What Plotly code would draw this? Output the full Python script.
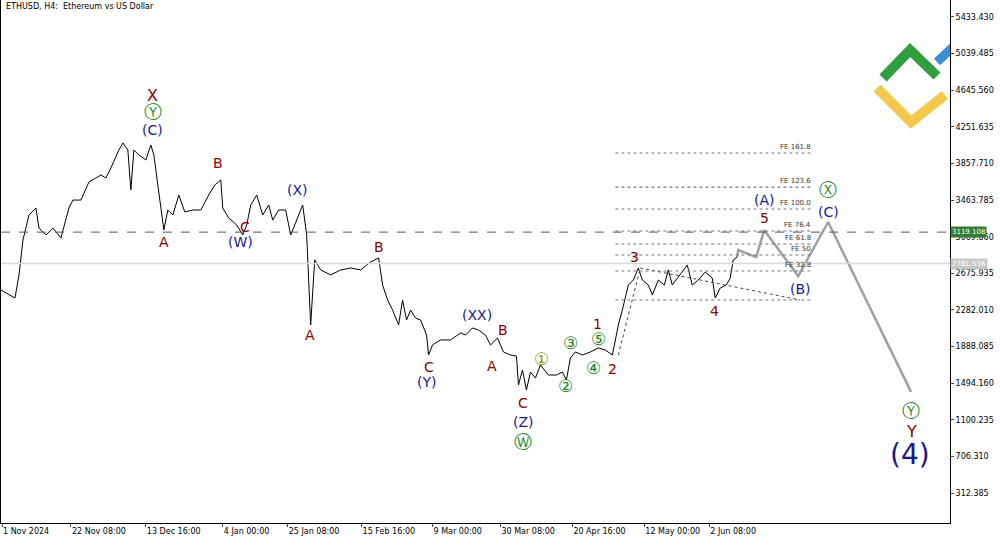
import plotly.graph_objects as go

# bar position (chart x) and close price
bar = [0, 5, 14, 18, 22, 28, 35, 38, 45, 52, 60, 68, 72, 80, 88, 95, 100, 105, 110, 118,
       122, 127, 130, 133, 138, 145, 150, 153, 156, 160, 163, 167, 172, 178, 184, 192, 200, 208, 214, 220,
       222, 228, 236, 242, 246, 250, 256, 262, 268, 272, 278, 285, 290, 298, 302, 306, 310, 314, 320, 330,
       340, 350, 360, 370, 378, 382, 387, 392, 398, 402, 406, 410, 415, 420, 426, 428, 432, 440, 450, 460,
       465, 472, 478, 485, 490, 497, 503, 510, 516, 518, 522, 526, 530, 535, 540, 548, 556, 562, 566, 570,
       575, 582, 590, 598, 605, 612, 618, 622, 628, 633, 638, 642, 648, 652, 658, 664, 668, 672, 680, 687,
       692, 698, 705, 712, 715, 720, 726, 730, 733, 737]
price = [2496, 2464, 2410, 2658, 3034, 3303, 3379, 3163, 3088, 3163, 3056, 3379, 3464, 3464, 3658, 3701, 3734, 3701, 3809, 4002,
         4078, 4002, 3572, 4002, 3949, 3895, 4056, 3949, 3701, 3357, 3142, 3357, 3303, 3518, 3336, 3357, 3357, 3518, 3626, 3680,
         3379, 3271, 3196, 3088, 3196, 3411, 3518, 3303, 3411, 3249, 3357, 3357, 3088, 3303, 3411, 3088, 2120, 2820, 2712, 2658,
         2712, 2733, 2712, 2798, 2841, 2550, 2389, 2281, 2120, 2389, 2174, 2281, 2195, 2174, 2012, 1797, 1905, 1959, 1959, 2034,
         2012, 2088, 2066, 2012, 1905, 1980, 1830, 1797, 1786, 1474, 1636, 1420, 1614, 1550, 1690, 1582, 1582, 1614, 1528, 1765,
         1830, 1797, 1830, 1873, 1851, 1797, 2120, 2281, 2550, 2604, 2733, 2604, 2550, 2443, 2604, 2550, 2712, 2550, 2658, 2765,
         2550, 2604, 2690, 2625, 2410, 2518, 2550, 2625, 2820, 2851]

proj_bar = [737, 738, 756, 764, 798, 828, 911]
proj_price = [2851, 2927, 2851, 3142, 2646, 3228, 1400]

fe_names = ["FE 161.8", "FE 123.6", "FE 100.0", "FE 76.4", "FE 61.8", "FE 50", "FE 32.8", ""]
fe_price = [3970, 3604, 3368, 3131, 2991, 2873, 2701, 2389]

ytick = [5433.430, 5039.485, 4645.560, 4251.635, 3857.710, 3463.785, 3069.860, 2675.935,
         2282.010, 1888.085, 1494.160, 1100.235, 706.310, 312.385]
xtick = [1, 70, 145, 222, 287, 361, 432, 500, 572, 644, 709]
xtick_text = ["1 Nov 2024", "22 Nov 08:00", "13 Dec 16:00", "4 Jan 00:00", "25 Jan 08:00", "15 Feb 16:00",
              "9 Mar 00:00", "30 Mar 08:00", "20 Apr 16:00", "12 May 00:00", "2 Jun 08:00"]

RED, NAVY, GREEN, OLIVE = "#8b0000", "#1a1a8c", "#1f8a1f", "#9a9a00"
# wave labels: bar, pixel row, text, colour, size
waves = [
    (152, 96, "X", RED, 16), (152, 112, "Ⓨ", GREEN, 18), (152, 130, "(C)", NAVY, 14),
    (163, 242, "A", RED, 14), (217, 163, "B", RED, 14), (244, 227, "C", RED, 14), (240, 242, "(W)", NAVY, 14),
    (297, 190, "(X)", NAVY, 14), (378, 247, "B", RED, 14), (309, 335, "A", RED, 14),
    (428, 367, "C", RED, 14), (426, 382, "(Y)", NAVY, 14), (476, 315, "(XX)", NAVY, 14),
    (503, 330, "B", RED, 14), (492, 366, "A", RED, 14), (523, 403, "C", RED, 14),
    (523, 422, "(Z)", NAVY, 14), (523, 441, "Ⓦ", GREEN, 18),
    (541, 359, "①", OLIVE, 17), (565, 386, "②", GREEN, 17), (570, 343, "③", GREEN, 17),
    (593, 368, "④", GREEN, 17), (598, 339, "⑤", GREEN, 17),
    (597, 324, "1", RED, 14), (612, 369, "2", RED, 14), (634, 257, "3", RED, 14), (714, 311, "4", RED, 14),
    (764, 218, "5", RED, 14), (764, 200, "(A)", NAVY, 14), (800, 289, "(B)", NAVY, 14),
    (828, 190, "Ⓧ", GREEN, 18), (828, 212, "(C)", NAVY, 14),
    (911, 410, "Ⓨ", GREEN, 18), (911, 431, "Y", RED, 16), (910, 454, "(4)", NAVY, 28),
]


def row_to_price(r):
    return 5433.43 - (r - 17) * 10.758


fig = go.Figure()
fig.add_trace(go.Scatter(x=bar, y=price, mode="lines", line=dict(color="black", width=1), hoverinfo="skip"))
fig.add_trace(go.Scatter(x=proj_bar, y=proj_price, mode="lines", line=dict(color="#a0a0a0", width=2.5)))
fig.add_trace(go.Scatter(x=[640, 800], y=[2733, 2389], mode="lines", line=dict(color="#444", width=1, dash="dot")))
fig.add_trace(go.Scatter(x=[618, 640], y=[1797, 2733], mode="lines", line=dict(color="#444", width=1, dash="dot")))

for name, p in zip(fe_names, fe_price):
    fig.add_shape(type="line", x0=615, x1=813, y0=p, y1=p, line=dict(color="#777", width=1.2, dash="dot"))
    if name:
        fig.add_annotation(x=813, y=p, text=name, showarrow=False, xanchor="right", yanchor="bottom",
                           font=dict(size=7, color="#333"))

fig.add_hline(y=3119.108, line=dict(color="#555", width=1, dash="dash"))
fig.add_hline(y=2781.536, line=dict(color="#d8d8d8", width=1.5))
fig.add_annotation(x=1, xref="paper", xanchor="left", y=3119.108, text="3119.108", showarrow=False,
                   bgcolor="#2e7d32", font=dict(size=7, color="white"), borderpad=1)
fig.add_annotation(x=1, xref="paper", xanchor="left", y=2781.536, text="2781.536", showarrow=False,
                   bgcolor="#c8c8c8", font=dict(size=7, color="white"), borderpad=1)

for bx, r, t, c, s in waves:
    fig.add_annotation(x=bx, y=row_to_price(r), text=t, showarrow=False, font=dict(size=s, color=c))

# logo
fig.add_shape(type="path", path="M %d,%f L %d,%f L %d,%f" % (883, row_to_price(78), 910, row_to_price(50), 937, row_to_price(76)),
              line=dict(color="#2e9e3e", width=10))
fig.add_shape(type="line", x0=937, x1=955, y0=row_to_price(62), y1=row_to_price(45),
              line=dict(color="#3b8fd9", width=9))
fig.add_shape(type="path", path="M %d,%f L %d,%f L %d,%f" % (877, row_to_price(88), 911, row_to_price(122), 945, row_to_price(95)),
              line=dict(color="#f2c94c", width=10))

fig.add_annotation(x=0.003, xref="paper", y=1, yref="paper", xanchor="left", yanchor="top",
                   text="ETHUSD, H4:  Ethereum vs US Dollar", showarrow=False, font=dict(size=8, color="black"))

fig.update_layout(
    width=1000, height=545, margin=dict(l=1, r=50, t=0, b=22, autoexpand=False),
    paper_bgcolor="white", plot_bgcolor="white", showlegend=False,
    font=dict(family="DejaVu Sans", size=8, color="black"),
    xaxis=dict(range=[0, 950], tickvals=xtick, ticktext=xtick_text, showgrid=False, zeroline=False,
               showline=True, linecolor="black", mirror=True, ticks="outside", ticklen=3,
               automargin=False, ticklabelposition="outside right"),
    yaxis=dict(range=[-10, 5616], side="right", tickvals=ytick, ticktext=["%.3f" % v for v in ytick],
               showgrid=False, zeroline=False, showline=True, linecolor="black", mirror=True,
               ticks="outside", ticklen=3, automargin=False),
)
fig.write_html("out.html", config={"displayModeBar": False},
               post_script="document.body.style.margin='0';")
